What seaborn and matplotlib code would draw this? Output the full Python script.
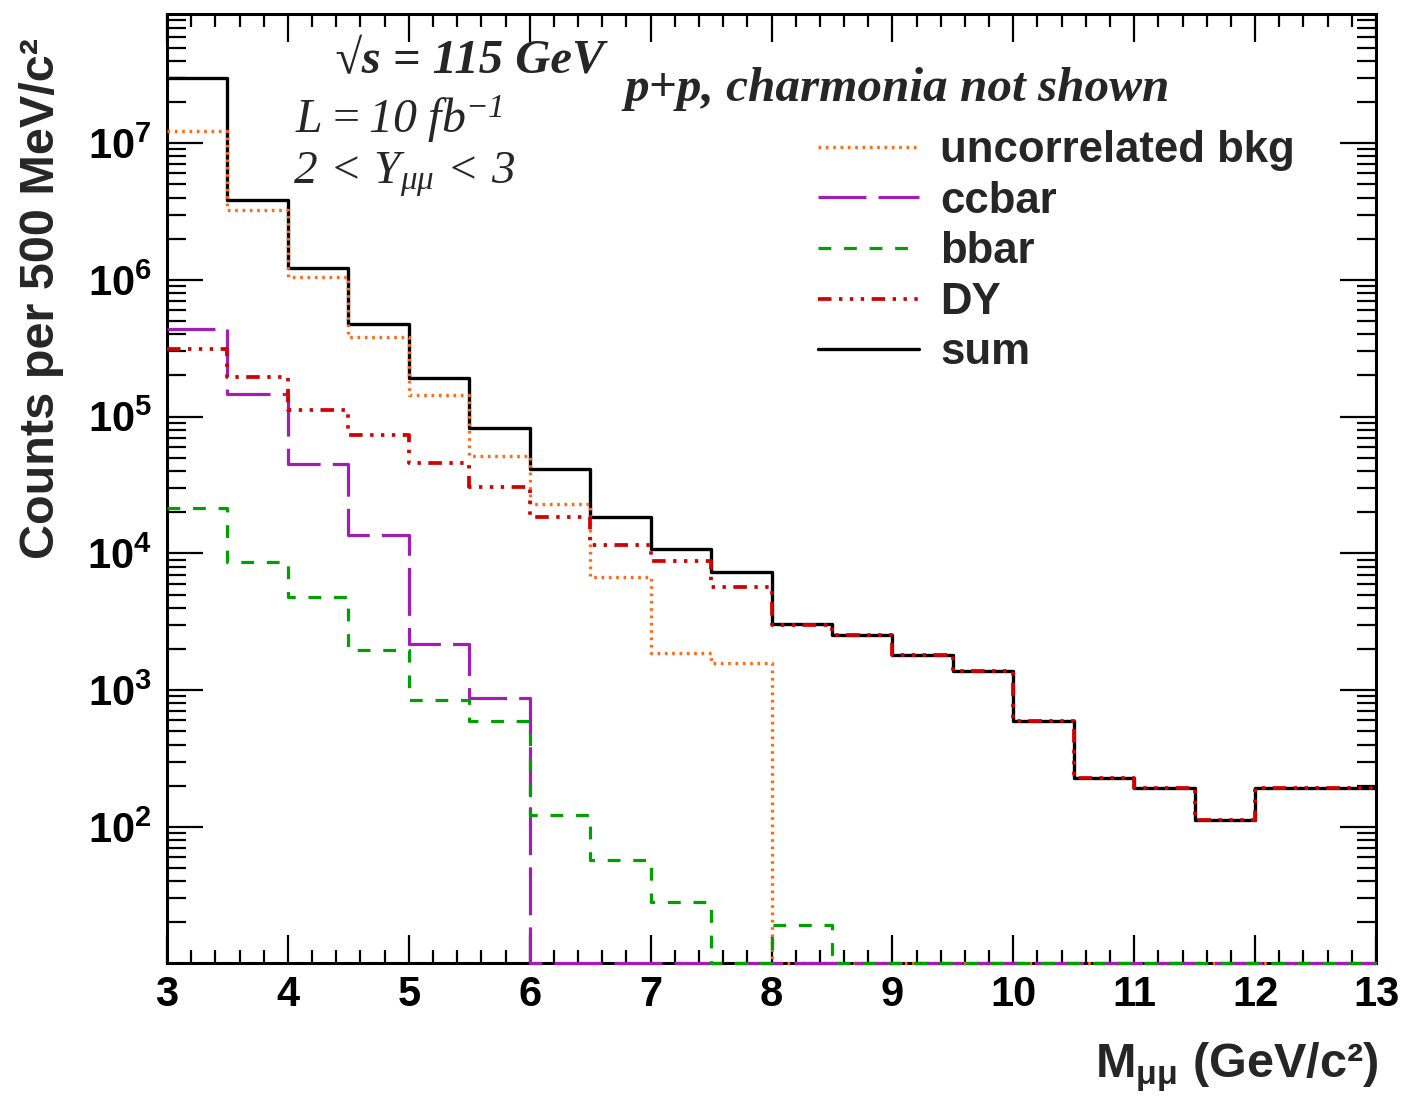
import numpy as np
import pandas as pd
import matplotlib
matplotlib.use("Agg")
import matplotlib.pyplot as plt
import seaborn as sns
from matplotlib.ticker import MultipleLocator, LogLocator, FixedLocator, NullFormatter

# ---------------- data ----------------
bin_edges = [3.0, 3.5, 4.0, 4.5, 5.0, 5.5, 6.0, 6.5, 7.0, 7.5, 8.0,
             8.5, 9.0, 9.5, 10.0, 10.5, 11.0, 11.5, 12.0, 12.5, 13.0]

uncorrelated_bkg = [1.22e7, 3.26e6, 1.05e6, 3.82e5, 1.45e5, 5.13e4, 2.31e4, 6.72e3,
                    1.87e3, 1.58e3, 0, 0, 0, 0, 0, 0, 0, 0, 0, 0]
ccbar = [4.4e5, 1.47e5, 4.48e4, 1.36e4, 2.17e3, 880, 0, 0, 0, 0,
         0, 0, 0, 0, 0, 0, 0, 0, 0, 0]
bbar = [2.16e4, 8.6e3, 4.8e3, 1.98e3, 850, 590, 123, 57, 28, 0,
        19, 0, 0, 0, 0, 0, 0, 0, 0, 0]
drell_yan = [3.14e5, 1.95e5, 1.11e5, 7.3e4, 4.58e4, 3.06e4, 1.85e4, 1.16e4, 8.75e3, 5.68e3,
             3010, 2550, 1800, 1380, 596, 226, 191, 113, 191, 191]
total = [3.0e7, 3.86e6, 1.22e6, 4.73e5, 1.93e5, 8.3e4, 4.12e4, 1.83e4, 1.08e4, 7.31e3,
         3030, 2550, 1800, 1380, 596, 226, 191, 113, 191, 191]

series_names = ["uncorrelated bkg", "ccbar", "bbar", "DY", "sum"]
y_major_exponents = [2, 3, 4, 5, 6, 7]

# ---------------- style ----------------
sns.set_theme(style="ticks")
plt.rcParams["font.family"] = ["Liberation Sans", "DejaVu Sans"]
plt.rcParams["font.weight"] = "bold"
plt.rcParams["mathtext.fontset"] = "custom"
plt.rcParams["mathtext.rm"] = "Liberation Serif:style=italic:weight=normal"
plt.rcParams["mathtext.it"] = "Liberation Serif:style=italic:weight=normal"
plt.rcParams["mathtext.bf"] = "Liberation Serif:style=italic:weight=bold"
plt.rcParams["axes.linewidth"] = 2.2

W, H = 1408, 1099
fig = plt.figure(figsize=(W / 100, H / 100), dpi=100)
ax_l, ax_r, ax_t, ax_b = 167, 1376, 14, 963
ax = fig.add_axes([ax_l / W, 1 - ax_b / H, (ax_r - ax_l) / W, (ax_b - ax_t) / H])

ymin, ymax = 10.1, 8.8e7
ax.set_yscale("log")

edges = np.asarray(bin_edges)


def step_frame(values):
    v = np.clip(np.asarray(values, float), ymin, None)
    return pd.DataFrame({"x": edges, "y": np.append(v, v[-1])})


styles = {
    "sum": dict(color="#000000", lw=2.4, ls="-", z=3),
    "uncorrelated bkg": dict(color="#ff6a1a", lw=2.4, ls=(0, (0.8, 1.4)), z=4),
    "ccbar": dict(color="#a01eb4", lw=2.3, ls=(0, (15.0, 3.8)), z=4),
    "bbar": dict(color="#00a000", lw=2.3, ls=(0, (4.0, 4.0)), z=4),
    "DY": dict(color="#d20000", lw=2.7, ls=(0, (3.6, 2.0, 0.9, 2.0, 0.9, 2.0, 0.9, 2.0)), z=5),
}
data_map = {"uncorrelated bkg": uncorrelated_bkg, "ccbar": ccbar, "bbar": bbar,
            "DY": drell_yan, "sum": total}

for name in ["sum", "uncorrelated bkg", "ccbar", "bbar", "DY"]:
    st = styles[name]
    sns.lineplot(data=step_frame(data_map[name]), x="x", y="y", ax=ax,
                 color=st["color"], linewidth=st["lw"], linestyle=st["ls"],
                 drawstyle="steps-post", label=name, errorbar=None,
                 zorder=st["z"], clip_on=False)

ax.set_xlim(3, 13)
ax.set_ylim(ymin, ymax)

# ticks (ROOT style: inside, all four sides)
ax.xaxis.set_major_locator(MultipleLocator(1))
ax.xaxis.set_minor_locator(MultipleLocator(0.2))
ax.yaxis.set_major_locator(FixedLocator([10.0 ** e for e in y_major_exponents]))
ax.yaxis.set_minor_locator(LogLocator(base=10, subs=np.arange(2, 10), numticks=20))
ax.yaxis.set_minor_formatter(NullFormatter())
ax.tick_params(which="both", direction="in", top=True, right=True, width=1.6, colors="black")
ax.tick_params(axis="x", which="major", length=20, pad=9, labelsize=30)
ax.tick_params(axis="x", which="minor", length=9.5)
ax.tick_params(axis="y", which="major", length=26, pad=11, labelsize=30)
ax.tick_params(axis="y", which="minor", length=13.5)
for lab in ax.get_xticklabels() + ax.get_yticklabels():
    lab.set_fontweight("bold")
for s in ax.spines.values():
    s.set_color("black")
    s.set_linewidth(2.2)

# axis titles
ax.set_xlabel(r"$\mathdefault{M_{μμ}}$ (GeV/c²)", fontsize=35, fontweight="bold", loc="right")
ax.xaxis.set_label_coords(1.002, -0.081)
ax.set_ylabel("Counts per 500 MeV/c²", fontsize=35, fontweight="bold")
yl = ax.yaxis.label
yl.set_rotation_mode("default")
yl.set_horizontalalignment("center")
yl.set_verticalalignment("top")
ax.yaxis.set_label_coords((42 - ax_l) / (ax_r - ax_l), (ax_b - 38) / (ax_b - ax_t))

# annotations
serif = ["Liberation Serif", "DejaVu Serif"]
fig.text(335 / W, 1 - 73 / H, "√s = 115 GeV", family=serif, style="italic",
         weight="bold", fontsize=35, ha="left", va="baseline")
fig.text(625 / W, 1 - 101 / H, "p+p, charmonia not shown", family=serif, style="italic",
         weight="bold", fontsize=35.5, ha="left", va="baseline")
fig.text(295 / W, 1 - 133 / H, r"$\mathrm{L = 10\ fb^{-1}}$", fontsize=34.5,
         ha="left", va="baseline")
fig.text(293 / W, 1 - 184 / H, r"$\mathrm{2\,<\,Y_{μμ}\,<\,3}$", fontsize=34,
         ha="left", va="baseline")

# legend
handles, labels = ax.get_legend_handles_labels()
hmap = dict(zip(labels, handles))
ax.legend([hmap[n] for n in series_names], series_names, loc="upper left",
          bbox_to_anchor=((818 - ax_l) / (ax_r - ax_l), (ax_b - 130) / (ax_b - ax_t)),
          frameon=False, handlelength=2.3, handletextpad=0.5,
          labelspacing=0.22, borderpad=0, borderaxespad=0,
          prop=dict(family="Liberation Sans", weight="bold", size=31.5))

fig.savefig("out.png", dpi=100)
